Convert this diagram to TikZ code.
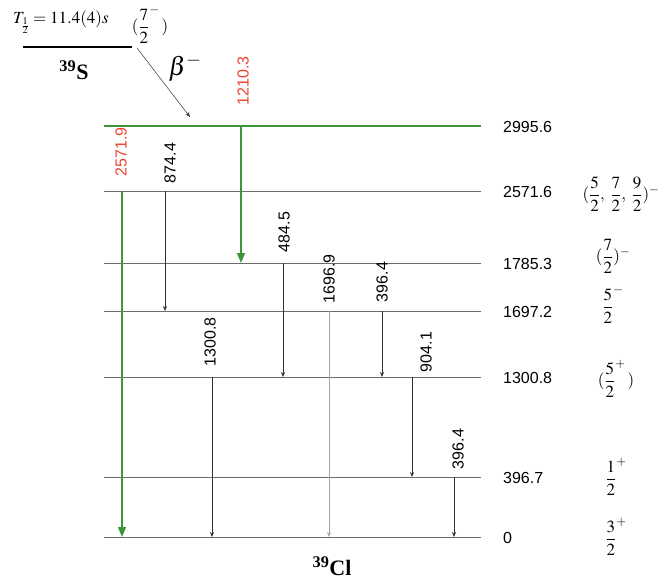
\documentclass[tikz,border=0pt]{standalone}
\usepackage{amsmath}
\usepackage{mathptmx}
\usepackage[no-math]{fontspec}
\setmainfont{Liberation Serif}
\newfontfamily\numfont{Liberation Sans}
\usetikzlibrary{arrows.meta}
\definecolor{decaygreen}{RGB}{58,150,56}
\definecolor{decayred}{RGB}{238,66,44}
\definecolor{levelgray}{gray}{0.42}

\begin{document}
\begin{tikzpicture}[
  x=1pt,y=-1pt,
  level/.style={draw=levelgray,line width=0.8pt},
  level top/.style={draw=decaygreen,line width=1.4pt},
  gline/.style={draw=black!80,line width=0.6pt,-{Stealth[length=5pt,width=4pt]}},
  greenline/.style={draw=decaygreen,line width=1.4pt,-{Triangle[length=10pt,width=8pt]}},
  glabel/.style={rotate=90,inner sep=0pt,font=\numfont\fontsize{16}{16}\selectfont},
  elabel/.style={anchor=west,inner sep=0pt,font=\numfont\fontsize{16}{16}\selectfont},
  spin/.style={inner sep=0pt,font=\fontsize{17}{17}\selectfont},
  nuclide/.style={inner sep=0pt,font=\bfseries\fontsize{22}{22}\selectfont},
]
  \useasboundingbox (0,0) rectangle (665,581);

  % parent level
  \node[spin,anchor=west] (thalf) at (13,22) {$T_{\frac{1}{2}} = 11.4(4)s$};
  \node[spin] (jparent) at (150,25) {$(\dfrac{7}{2}^{-}\,)$};
  \coordinate (s39l) at (23,47);
  \coordinate (s39r) at (132,47);
  \draw[line width=2.6pt] (s39l) -- (s39r);
  \node[nuclide] (s39) at (74,70) {\textsuperscript{39}S};
  \coordinate (bfrom) at (137,48);
  \coordinate (bto) at (190,117);
  \draw[gline,line width=0.5pt] (bfrom) -- (bto);
  \node[font=\fontsize{26}{26}\selectfont] (beta) at (185,68) {$\beta^{-}$};

  % daughter levels
  \coordinate (e2996) at (104,126);
  \draw[level top] (e2996) -- (481,126);
  \node[elabel] (e2996 lab) at (503,127) {2995.6};
  \foreach \n/\y/\e in {e2571/191/2571.6,e1785/263/1785.3,e1697/311/1697.2,
      e1300/377/1300.8,e397/477/396.7,e0/537/0}{
    \coordinate (\n) at (104,\y);
    \draw[level] (\n) -- (481,\y);
    \node[elabel] (\n lab) at (503,\y+1) {\e};
  }

  \node[spin] (j2571) at (621,194) {$(\dfrac{5}{2},\;\dfrac{7}{2},\;\dfrac{9}{2})^{-}$};
  \node[spin] (j1785) at (613,256) {$(\dfrac{7}{2})^{-}$};
  \node[spin] (j1697) at (613,305) {$\dfrac{5}{2}^{-}$};
  \node[spin] (j1300) at (616,379) {$(\dfrac{5}{2}^{+}\,)$};
  \node[spin] (j397) at (616,477) {$\dfrac{1}{2}^{+}$};
  \node[spin] (j0) at (616,537) {$\dfrac{3}{2}^{+}$};

  % beta-fed transitions
  \draw[greenline] (241,0 |- e2996) -- (241,0 |- e1785);
  \node[glabel,text=decayred] (g1210) at (243,81) {1210.3};
  \draw[greenline] (122,0 |- e2571) -- (122,0 |- e0);
  \node[glabel,text=decayred] (g2572) at (121,152) {2571.9};

  % gamma transitions
  \draw[gline] (165,0 |- e2571) -- (165,0 |- e1697);
  \node[glabel] (g874) at (170,163) {874.4};
  \draw[gline] (283,0 |- e1785) -- (283,0 |- e1300);
  \node[glabel] (g485) at (284,232) {484.5};
  \draw[gline,draw=black!35] (329,0 |- e1697) -- (329,0 |- e0);
  \node[glabel] (g1697) at (329,279) {1696.9};
  \draw[gline] (382,0 |- e1697) -- (382,0 |- e1300);
  \node[glabel] (g396a) at (382,282) {396.4};
  \draw[gline] (212,0 |- e1300) -- (212,0 |- e0);
  \node[glabel] (g1301) at (210,342) {1300.8};
  \draw[gline] (412,0 |- e1300) -- (412,0 |- e397);
  \node[glabel] (g904) at (426,352) {904.1};
  \draw[gline] (454,0 |- e397) -- (454,0 |- e0);
  \node[glabel] (g396b) at (458,449) {396.4};

  \node[nuclide] (cl39) at (332,566) {\textsuperscript{39}Cl};
\end{tikzpicture}
\end{document}
